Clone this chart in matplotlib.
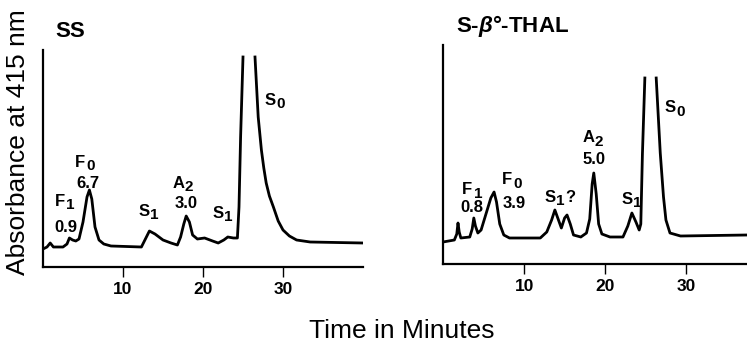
import numpy as np
import matplotlib
matplotlib.use("Agg")
import matplotlib.pyplot as plt

plt.rcParams['font.family'] = ['Liberation Sans', 'DejaVu Sans']
plt.rcParams['mathtext.fontset'] = 'custom'
plt.rcParams['mathtext.rm'] = 'Liberation Sans:bold'
plt.rcParams['mathtext.it'] = 'Liberation Sans:bold:italic'
plt.rcParams['mathtext.bf'] = 'Liberation Sans:bold'

# traced chromatograms: time (min) and absorbance (arbitrary units); nan = pen off scale
ss_time = [0, 0.5, 0.9, 1.3, 2.5, 3.0, 3.3, 3.7, 4.1, 4.5, 5.0, 5.5, 5.8, 6.1, 6.5, 7.0,
           7.6, 8.5, 12.3, 12.8, 13.3, 14.0, 15.0, 16.0, 16.8, 17.2, 17.6, 17.9, 18.3,
           18.7, 19.3, 20.2, 21.2, 21.9, 22.6, 23.1, 23.8, 24.3, 24.5, 24.7, 25.0,
           25.7, 26.5, 26.9, 27.3, 27.6, 27.9, 28.3, 28.8, 29.4, 30.0, 30.8, 31.7,
           33.4, 40.0]
ss_abs = [18, 20, 24, 20, 20, 23, 29, 27, 26, 28, 45, 70, 77, 68, 40, 27,
          23, 21, 20, 28, 36, 33, 27, 24, 22, 30, 43, 51, 45,
          32, 28, 29, 26, 24, 27, 30, 29, 29, 60, 130, 210,
          np.nan, 210, 150, 117, 99, 84, 71, 60, 46, 37, 31, 27,
          25, 24]

th_time = [0, 1.4, 1.7, 1.85, 2.0, 2.2, 3.3, 3.6, 3.8, 4.0, 4.3, 4.7, 5.3, 5.9, 6.3, 6.6,
           7.0, 7.5, 8.2, 12.0, 12.8, 13.4, 13.8, 14.2, 14.6, 15.0, 15.3, 15.7, 16.1,
           17.0, 17.7, 18.1, 18.4, 18.6, 18.9, 19.2, 19.6, 20.6, 22.2, 22.8, 23.3, 23.8,
           24.2, 24.4, 24.6, 24.9, 25.6, 26.3, 26.8, 27.2, 27.5, 28.0, 29.3, 37.5]
th_abs = [22, 24, 30, 41, 32, 26, 27, 35, 46, 38, 31, 34, 50, 66, 72, 62,
          40, 29, 26, 26, 32, 44, 54, 45, 36, 46, 49, 40, 29,
          27, 31, 45, 80, 91, 70, 40, 30, 27, 27, 38, 51, 42,
          34, 40, 110, 186, np.nan, 186, 111, 67, 44, 31, 28, 29]

ticks = [10, 20, 30]

# peak labels: (letter, subscript, suffix, time, absorbance)
ss_labels = [('F', '1', '', 2.1, 66), ('0.9', '', '', 2.9, 39),
             ('F', '0', '', 4.6, 105), ('6.7', '', '', 5.6, 84),
             ('S', '1', '', 12.6, 56),
             ('A', '2', '', 16.9, 84), ('3.0', '', '', 17.9, 63),
             ('S', '1', '', 21.9, 54),
             ('S', '0', '', 28.4, 167)]
th_labels = [('F', '1', '', 3.0, 74), ('0.8', '', '', 3.6, 56),
             ('F', '0', '', 7.9, 84), ('3.9', '', '', 8.8, 61),
             ('S', '1', '?', 13.2, 67),
             ('A', '2', '', 17.9, 126), ('5.0', '', '', 18.6, 105),
             ('S', '1', '', 22.7, 65),
             ('S', '0', '', 28.0, 156)]

W, H = 747, 347
fig = plt.figure(figsize=(W / 100, H / 100), dpi=100)


def panel(left, right, top, bottom, xmax, t, a, labels, title, title_pos):
    ax = fig.add_axes([left / W, (H - bottom) / H, (right - left) / W, (bottom - top) / H])
    ax.plot(t, a, color='black', lw=2.0, solid_joinstyle='round')
    ax.set_xlim(0, xmax)
    ax.set_ylim(0, bottom - top)
    for s in ['top', 'right']:
        ax.spines[s].set_visible(False)
    for s in ['left', 'bottom']:
        ax.spines[s].set_linewidth(1.6)
    ax.set_yticks([])
    ax.set_xticks(ticks)
    ax.tick_params(axis='x', length=7, width=1.0, pad=4, labelsize=12.5)
    for lab in ax.get_xticklabels():
        lab.set_fontweight('bold')
    for main, sub, suffix, x, y in labels:
        ax.text(x, y, main, ha='center', va='center', fontsize=12, fontweight='bold')
        if sub:
            ax.annotate(sub, (x, y), xytext=(4.5, -3), textcoords='offset points',
                        ha='left', va='center', fontsize=11, fontweight='bold')
        if suffix:
            ax.annotate(suffix, (x, y), xytext=(11, 0), textcoords='offset points',
                        ha='left', va='center', fontsize=12, fontweight='bold')
    ax.text(title_pos[0], title_pos[1], title, ha='center', va='center',
            fontsize=16, fontweight='bold', clip_on=False)
    return ax


panel(43, 363, 50, 267, 40, ss_time, ss_abs, ss_labels, 'SS', (3.4, 236))
panel(443, 747, 45, 264, 37.5, th_time, th_abs, th_labels,
      r'S-$\beta$°-THAL', (8.6, 238))

fig.text(18 / W, 1 - 142 / H, 'Absorbance at 415 nm', rotation=90,
         ha='center', va='center', fontsize=19)
fig.text(402 / W, 1 - 331 / H, 'Time in Minutes', ha='center', va='center', fontsize=19)

fig.savefig('out.png', dpi=100)
